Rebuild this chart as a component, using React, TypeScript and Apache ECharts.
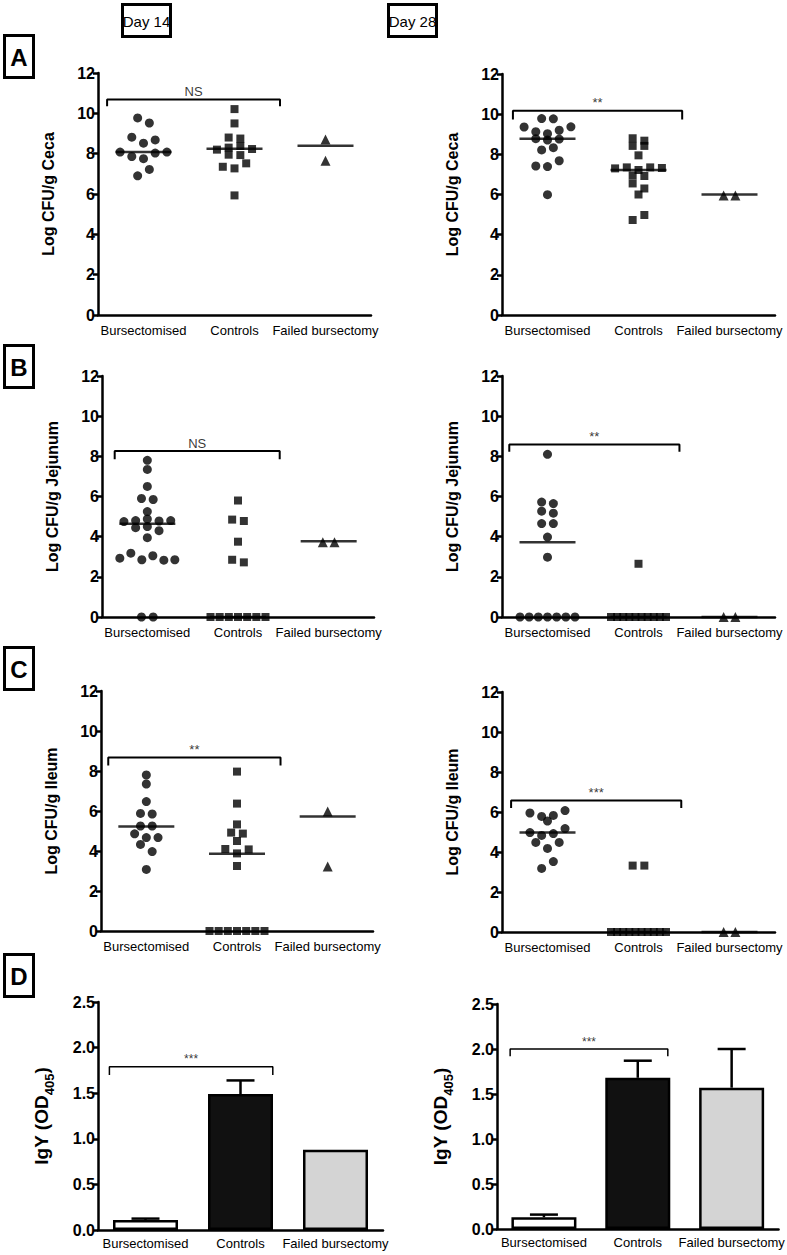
import React, { useEffect, useRef } from "react";
import * as echarts from "echarts";

const CATEGORIES = ["Bursectomised", "Controls", "Failed bursectomy"];
const LOG_MAX = 12;
const IGY_MAX = 2.5;

// A — Log CFU/g Ceca
const cecaD14Bursectomised = [9.77, 9.52, 8.82, 8.52, 8.68, 8.08, 7.86, 7.75, 8.03, 8.08, 6.9, 7.22];
const cecaD14Controls = [10.21, 9.5, 8.8, 8.75, 8.2, 8.3, 8.38, 8.23, 7.95, 7.93, 7.35, 7.27, 7.52, 5.93];
const cecaD14Failed = [8.7, 7.65];
const cecaD14Medians = [8.08, 8.24, 8.39];

const cecaD28Bursectomised = [9.78, 9.77, 9.36, 9.13, 9.03, 9.2, 9.37, 8.78, 8.71, 8.76, 8.22, 8.33, 7.42, 7.39, 7.68, 5.99];
const cecaD28Controls = [8.8, 8.68, 8.42, 8.42, 7.95, 7.3, 7.35, 7.22, 7.35, 7.32, 6.95, 6.92, 6.55, 6.3, 6.0, 4.73, 4.98];
const cecaD28Failed = [5.95, 5.95];
const cecaD28Medians = [8.78, 7.22, 6.0];

// B — Log CFU/g Jejunum
const jejD14Bursectomised = [7.8, 7.35, 6.5, 5.9, 5.85, 5.25, 4.75, 4.8, 4.88, 4.78, 4.8, 4.45, 4.5, 4.3, 3.95, 2.93, 3.18, 2.85, 3.05, 2.83, 2.85, 0, 0];
const jejD14Controls = [5.8, 4.85, 4.78, 3.75, 2.85, 2.72, 0, 0, 0, 0, 0, 0, 0];
const jejD14Failed = [3.72, 3.72];
const jejD14Medians = [4.64, 0, 3.77];

const jejD28Bursectomised = [8.1, 5.72, 5.65, 5.27, 5.17, 4.65, 4.65, 3.98, 2.98, 0, 0, 0, 0, 0, 0, 0];
const jejD28Controls = [2.65, 0, 0, 0, 0, 0, 0, 0, 0, 0, 0];
const jejD28Failed = [0, 0];
const jejD28Medians = [3.72, 0, 0];

// C — Log CFU/g Ileum
const ileD14Bursectomised = [7.8, 7.35, 6.47, 5.88, 5.85, 5.25, 5.25, 4.86, 4.67, 4.67, 4.33, 3.97, 3.08];
const ileD14Controls = [7.97, 6.37, 5.33, 4.92, 4.87, 4.5, 4.1, 3.88, 4.08, 3.25, 0, 0, 0, 0, 0, 0, 0];
const ileD14Failed = [5.97, 3.22];
const ileD14Medians = [5.23, 3.86, 5.72];

const ileD28Bursectomised = [5.95, 5.78, 5.55, 5.83, 6.07, 4.97, 4.83, 4.92, 5.17, 4.48, 4.18, 4.48, 3.18, 3.52];
const ileD28Controls = [3.32, 3.32, 0, 0, 0, 0, 0, 0, 0, 0, 0, 0];
const ileD28Failed = [0, 0];
const ileD28Medians = [4.97, 0, 0];

// D — IgY (OD405), mean and SEM
const igyD14Means = [0.11, 1.49, 0.88];
const igyD14Sem = [0.015, 0.15, 0];
const igyD28Means = [0.13, 1.68, 1.57];
const igyD28Sem = [0.03, 0.19, 0.43];

// ---------- layout / style (not data) ----------
const ARIAL = "Arial, 'Liberation Sans', sans-serif";
const SYMBOLS = ["circle", "rect", "triangle"];
const SYMBOL_SIZES = [9, 8, 10];
const BAR_FILLS = ["#ffffff", "#111111", "#d4d4d4"];

type Bracket = { from: number; to: number; y: number; drop: number; text: string };

const scatterPanels = [
  { grid: { left: 98, top: 73, width: 273, height: 242 }, title: "Log CFU/g Ceca", groups: [cecaD14Bursectomised, cecaD14Controls, cecaD14Failed], medians: cecaD14Medians, bracket: { from: -0.4, to: 1.5, y: 10.68, drop: 0.33, text: "NS" } },
  { grid: { left: 502, top: 74, width: 273, height: 241 }, title: "Log CFU/g Ceca", groups: [cecaD28Bursectomised, cecaD28Controls, cecaD28Failed], medians: cecaD28Medians, bracket: { from: -0.38, to: 1.48, y: 10.17, drop: 0.43, text: "**" } },
  { grid: { left: 102, top: 376, width: 272, height: 241 }, title: "Log CFU/g Jejunum", groups: [jejD14Bursectomised, jejD14Controls, jejD14Failed], medians: jejD14Medians, bracket: { from: -0.36, to: 1.46, y: 8.26, drop: 0.4, text: "NS" } },
  { grid: { left: 502, top: 376, width: 273, height: 241 }, title: "Log CFU/g Jejunum", groups: [jejD28Bursectomised, jejD28Controls, jejD28Failed], medians: jejD28Medians, bracket: { from: -0.42, to: 1.45, y: 8.59, drop: 0.36, text: "**" } },
  { grid: { left: 101, top: 691, width: 272, height: 240 }, title: "Log CFU/g Ileum", groups: [ileD14Bursectomised, ileD14Controls, ileD14Failed], medians: ileD14Medians, bracket: { from: -0.42, to: 1.48, y: 8.67, drop: 0.4, text: "**" } },
  { grid: { left: 502, top: 692, width: 273, height: 240 }, title: "Log CFU/g Ileum", groups: [ileD28Bursectomised, ileD28Controls, ileD28Failed], medians: ileD28Medians, bracket: { from: -0.4, to: 1.47, y: 6.57, drop: 0.37, text: "***" } },
];

const barPanels = [
  { grid: { left: 98, top: 1002, width: 285, height: 228 }, means: igyD14Means, sem: igyD14Sem, bracket: { from: -0.38, to: 1.34, y: 1.79, drop: 0.09, text: "***" } },
  { grid: { left: 497, top: 1004, width: 286, height: 225 }, means: igyD28Means, sem: igyD28Sem, bracket: { from: -0.36, to: 1.32, y: 2.0, drop: 0.08, text: "***" } },
];

// GraphPad-like column scatter: group close values into rows, spread each row symmetrically
function swarm(values: number[], cat: number, rowSpan: number, step: number, maxWidth: number): number[][] {
  const order = values.map((_, i) => i).sort((a, b) => values[b] - values[a] || a - b);
  const rows: number[][] = [];
  let cur: number[] = [];
  let start = Infinity;
  for (const i of order) {
    if (cur.length && start - values[i] <= rowSpan + 1e-9) cur.push(i);
    else {
      if (cur.length) rows.push(cur);
      cur = [i];
      start = values[i];
    }
  }
  if (cur.length) rows.push(cur);
  const out: number[][] = [];
  for (const row of rows) {
    row.sort((a, b) => a - b);
    const n = row.length;
    const sp = n > 1 ? Math.min(step, maxWidth / (n - 1)) : 0;
    row.forEach((i, k) => out.push([cat + (k - (n - 1) / 2) * sp, values[i]]));
  }
  return out;
}

const axisLineStyle = { color: "#000", width: 2.5 };

function bracketSeries(b: Bracket, xi: number, yi: number, lw: number, fontSize: number) {
  return [
    {
      type: "line",
      xAxisIndex: xi,
      yAxisIndex: yi,
      data: [[b.from, b.y - b.drop], [b.from, b.y], [b.to, b.y], [b.to, b.y - b.drop]],
      symbol: "none",
      lineStyle: { color: "#000", width: lw },
      silent: true,
      clip: false,
      z: 3,
    },
    {
      type: "scatter",
      xAxisIndex: xi,
      yAxisIndex: yi,
      data: [[(b.from + b.to) / 2, b.y]],
      symbolSize: 1,
      itemStyle: { color: "rgba(0,0,0,0)" },
      label: { show: true, position: "top", distance: 1, formatter: b.text, color: "#000", fontFamily: ARIAL, fontSize },
      silent: true,
      clip: false,
    },
  ];
}

function buildOption() {
  const grid: any[] = [];
  const xAxis: any[] = [];
  const yAxis: any[] = [];
  const series: any[] = [];

  const yAxisBase = (pi: number) => ({
    type: "value",
    gridIndex: pi,
    splitLine: { show: false },
    axisLine: { show: true, onZero: false, lineStyle: axisLineStyle },
    axisTick: { show: true, length: 5, lineStyle: axisLineStyle },
  });

  scatterPanels.forEach((p, pi) => {
    grid.push({ ...p.grid, containLabel: false });
    const pxPerCat = p.grid.width / 3;
    xAxis.push({
      type: "category",
      gridIndex: pi,
      data: CATEGORIES,
      axisLine: { onZero: false, lineStyle: axisLineStyle },
      axisTick: { alignWithLabel: true, length: 5, lineStyle: axisLineStyle },
      axisLabel: { color: "#000", fontFamily: ARIAL, fontSize: 13, margin: 9, interval: 0 },
    });
    xAxis.push({ type: "value", gridIndex: pi, min: -0.5, max: 2.5, show: false });
    yAxis.push({
      ...yAxisBase(pi),
      min: 0,
      max: LOG_MAX,
      interval: 2,
      name: p.title,
      nameLocation: "middle",
      nameGap: 42,
      nameTextStyle: { color: "#000", fontFamily: ARIAL, fontWeight: "bold", fontSize: 16 },
      axisLabel: { color: "#000", fontFamily: ARIAL, fontWeight: "bold", fontSize: 16, margin: 3 },
    });
    const xi = pi * 2 + 1;
    p.groups.forEach((vals, gi) => {
      series.push({
        type: "scatter",
        xAxisIndex: xi,
        yAxisIndex: pi,
        data: swarm(vals, gi, 0.36, 11.7 / pxPerCat, 55 / pxPerCat),
        symbol: SYMBOLS[gi],
        symbolSize: SYMBOL_SIZES[gi],
        itemStyle: { color: "#000" },
        clip: false,
        silent: true,
        z: 4,
      });
    });
    series.push({
      type: "scatter",
      xAxisIndex: xi,
      yAxisIndex: pi,
      data: p.medians.map((m, gi) => [gi, m]),
      symbol: "rect",
      symbolSize: [56, 2.5],
      itemStyle: { color: "#000" },
      clip: false,
      silent: true,
      z: 5,
    });
    series.push(...bracketSeries(p.bracket, xi, pi, 2, 13));
  });

  barPanels.forEach((p, bi) => {
    const pi = scatterPanels.length + bi;
    grid.push({ ...p.grid, containLabel: false });
    xAxis.push({
      type: "category",
      gridIndex: pi,
      data: CATEGORIES,
      axisLine: { onZero: false, lineStyle: axisLineStyle },
      axisTick: { show: false },
      axisLabel: { color: "#000", fontFamily: ARIAL, fontSize: 13, margin: 7, interval: 0 },
    });
    xAxis.push({ type: "value", gridIndex: pi, min: -0.5, max: 2.5, show: false });
    yAxis.push({
      ...yAxisBase(pi),
      min: 0,
      max: IGY_MAX,
      interval: 0.5,
      name: "{m|IgY (OD}{s|405}{m|)}",
      nameLocation: "middle",
      nameGap: 42,
      nameTextStyle: {
        color: "#000",
        rich: {
          m: { fontFamily: ARIAL, fontWeight: "bold", fontSize: 19, padding: [0, 0, 5, 0], verticalAlign: "bottom", color: "#000" },
          s: { fontFamily: ARIAL, fontWeight: "bold", fontSize: 13, verticalAlign: "bottom", color: "#000" },
        },
      },
      axisLabel: { color: "#000", fontFamily: ARIAL, fontWeight: "bold", fontSize: 16, margin: 3, formatter: (v: number) => v.toFixed(1) },
    });
    const ci = pi * 2;
    series.push({
      type: "bar",
      xAxisIndex: ci,
      yAxisIndex: pi,
      barWidth: 65,
      data: p.means.map((v, i) => ({ value: v, itemStyle: { color: BAR_FILLS[i] } })),
      itemStyle: { borderColor: "#000", borderWidth: 2.5 },
      silent: true,
      z: 2,
    });
    series.push({
      type: "custom",
      xAxisIndex: ci,
      yAxisIndex: pi,
      data: p.means.map((v, i) => [i, v, v + p.sem[i]]),
      clip: false,
      silent: true,
      z: 3,
      renderItem: (params: any, api: any) => {
        const base = api.coord([api.value(0), api.value(1)]);
        const top = api.coord([api.value(0), api.value(2)]);
        if (Math.abs(base[1] - top[1]) < 0.5) return { type: "group", children: [] };
        const half = 14;
        return {
          type: "group",
          children: [
            { type: "line", shape: { x1: base[0], y1: base[1], x2: top[0], y2: top[1] }, style: { stroke: "#000", lineWidth: 2.5 } },
            { type: "line", shape: { x1: top[0] - half, y1: top[1], x2: top[0] + half, y2: top[1] }, style: { stroke: "#000", lineWidth: 2.5 } },
          ],
        };
      },
    });
    series.push(...bracketSeries(p.bracket, pi * 2 + 1, pi, 1.5, 12));
  });

  const letterBox = (ch: string, top: number) => ({
    type: "group",
    children: [
      { type: "rect", shape: { x: 4.5, y: top + 1.5, width: 29, height: 42 }, style: { fill: "#fff", stroke: "#000", lineWidth: 3 } },
      { type: "text", x: 19, y: top + 23, style: { text: ch, fill: "#000", font: `bold 24px ${ARIAL}`, align: "center", verticalAlign: "middle" } },
    ],
  });
  const dayBox = (label: string, x: number) => ({
    type: "group",
    children: [
      { type: "rect", shape: { x: x + 1.5, y: 4.5, width: 48, height: 32 }, style: { fill: "#fff", stroke: "#000", lineWidth: 3 } },
      { type: "text", x: x + 25.5, y: 21, style: { text: label, fill: "#000", font: `15px ${ARIAL}`, align: "center", verticalAlign: "middle" } },
    ],
  });

  return {
    animation: false,
    backgroundColor: "#fff",
    grid,
    xAxis,
    yAxis,
    series,
    graphic: [
      dayBox("Day 14", 121),
      dayBox("Day 28", 387),
      letterBox("A", 34),
      letterBox("B", 344),
      letterBox("C", 646),
      letterBox("D", 953),
    ],
  };
}

export default function App() {
  const ref = useRef<HTMLDivElement>(null);
  useEffect(() => {
    if (!ref.current) return;
    const chart = echarts.init(ref.current, undefined, { renderer: "svg" });
    chart.setOption(buildOption() as any);
    return () => chart.dispose();
  }, []);
  return <div ref={ref} style={{ position: "absolute", left: 0, top: 0, width: 787, height: 1255, background: "#fff" }} />;
}
